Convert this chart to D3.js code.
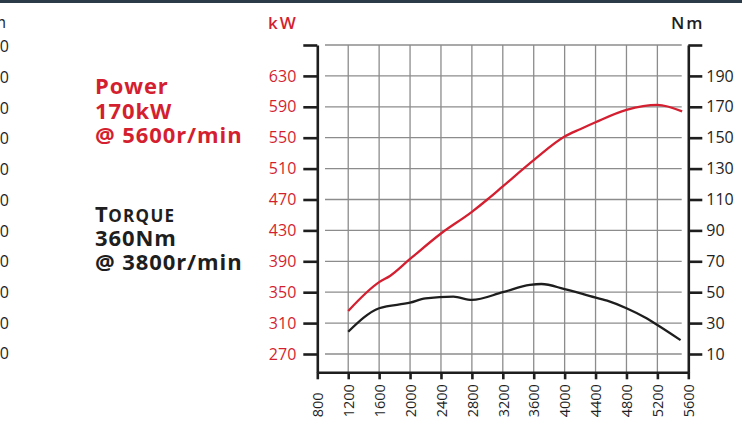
<!DOCTYPE html>
<html>
<head>
<meta charset="utf-8">
<script src="https://cdn.jsdelivr.net/npm/d3@7"></script>
<style>
  html, body { margin: 0; padding: 0; background: #fff; }
  svg { display: block; }
  text { font-family: "Open Sans", "Noto Sans", sans-serif; }
</style>
</head>
<body>
<svg id="chart" width="742" height="422"></svg>
<script>
// ---- data ----
const rpmTicks = [800, 1200, 1600, 2000, 2400, 2800, 3200, 3600, 4000, 4400, 4800, 5200, 5600];
const kwTicks = [270, 310, 350, 390, 430, 470, 510, 550, 590, 630];
const nmTicks = [10, 30, 50, 70, 90, 110, 130, 150, 170, 190];
const leftCutTicks = [210, 190, 170, 150, 130, 110, 90, 70, 50, 30, 10];

const powerRpm = [1200, 1600, 1740, 2000, 2400, 2800, 3000, 3200, 3600, 4000, 4200, 4400, 4800, 5200, 5520];
const powerKw  = [325.7, 363, 371, 393, 426, 454, 470, 487, 521, 551.5, 561, 570, 586, 592.5, 584];

const torqueRpm = [1200, 1600, 2000, 2200, 2560, 2800, 3200, 3550, 3700, 4000, 4330, 4550, 4800, 5060, 5200, 5500];
const torqueNm  = [24.4, 39.6, 43.2, 46, 47.1, 45, 50, 54.7, 55.3, 52, 47.5, 44.5, 39.6, 33.1, 28.8, 19];

const powerLabel = ["Power", "170kW", "@ 5600r/min"];
const torqueTitle = ["T", "ORQUE"];
const torqueLabel = ["360Nm", "@ 3800r/min"];

// ---- drawing ----
const RED = "#d41f30", DARK = "#1e1e1e", GRID = "#8c8c8c";
const svg = d3.select("#chart");

const x = d3.scaleLinear().domain([800, 5600]).range([317.3, 688.3]);
const yKw = d3.scaleLinear().domain([246.3, 670]).range([372.3, 45]);
const yNm = d3.scaleLinear().domain([-1.85, 210]).range([372.3, 45]);

// top bar
svg.append("rect").attr("x", 0).attr("y", 0).attr("width", 742).attr("height", 3).attr("fill", "#2c3b48");

// grid
const g = svg.append("g");
g.selectAll("line.h").data(kwTicks.concat([670])).join("line")
  .attr("x1", 325).attr("x2", 681.7)
  .attr("y1", d => yKw(d)).attr("y2", d => yKw(d))
  .attr("stroke", GRID).attr("stroke-width", 1.3);
g.selectAll("line.v").data(rpmTicks.slice(1, -1)).join("line")
  .attr("x1", d => x(d)).attr("x2", d => x(d))
  .attr("y1", 45).attr("y2", 372)
  .attr("stroke", GRID).attr("stroke-width", 1.3);

function styleAxis(sel, color) {
  sel.select(".domain").attr("stroke", DARK).attr("stroke-width", 2.6);
  sel.selectAll(".tick line").attr("stroke", DARK).attr("stroke-width", 2.6);
  sel.selectAll(".tick text").attr("fill", color).attr("font-size", 16)
     .attr("font-family", "'Open Sans', 'Noto Sans', sans-serif");
}

// left axis (kW)
const axL = svg.append("g").attr("transform", "translate(317.3,0)")
  .call(d3.axisLeft(yKw).tickValues(kwTicks.concat([670]))
    .tickFormat(d => d === 670 ? "" : d).tickSize(14).tickSizeOuter(0).tickPadding(7));
styleAxis(axL, RED);

// right axis (Nm)
const axR = svg.append("g").attr("transform", "translate(688.3,0)")
  .call(d3.axisRight(yNm).tickValues(nmTicks.concat([210]))
    .tickFormat(d => d === 210 ? "" : d).tickSize(14).tickSizeOuter(0).tickPadding(4));
styleAxis(axR, DARK);

// bottom axis
const axB = svg.append("g").attr("transform", "translate(0,372.3)")
  .call(d3.axisBottom(x).tickValues(rpmTicks).tickFormat(d3.format("d"))
    .tickSize(7).tickSizeOuter(0).tickPadding(0));
styleAxis(axB, DARK);
axB.selectAll(".tick text")
  .attr("font-size", 14.5)
  .attr("text-anchor", "start")
  .attr("transform", "translate(0,45) rotate(-90)")
  .attr("x", 0).attr("y", 0).attr("dy", "0.36em");

// unit labels
svg.append("text").attr("x", 268).attr("y", 29).attr("fill", RED)
  .attr("font-size", 17).attr("font-weight", 600).attr("letter-spacing", 2).text("kW");
svg.append("text").attr("x", 671).attr("y", 29).attr("fill", DARK)
  .attr("font-size", 17).attr("font-weight", 600).attr("letter-spacing", 2).text("Nm");

// cut-off labels from neighbouring chart at left edge
svg.append("text").attr("x", 6).attr("y", 28).attr("text-anchor", "end").attr("fill", DARK)
  .attr("font-size", 16).text("Nm");
svg.selectAll("text.cut").data(leftCutTicks).join("text")
  .attr("x", 9).attr("text-anchor", "end")
  .attr("y", (d, i) => 46.7 + i * 30.7).attr("dy", "0.35em")
  .attr("fill", DARK).attr("font-size", 16).text(d => d);

// legend texts
powerLabel.forEach((t, i) => svg.append("text")
  .attr("x", 95).attr("y", 94 + i * 24.5)
  .attr("fill", RED).attr("font-size", 22).attr("font-weight", 700).attr("letter-spacing", 0.9)
  .text(t));

const tT = svg.append("text").attr("x", 95).attr("y", 222)
  .attr("fill", DARK).attr("font-size", 22).attr("font-weight", 700).text(torqueTitle[0]);
const tW = tT.node().getComputedTextLength();
svg.append("text").attr("x", 95 + tW + 0.5).attr("y", 222)
  .attr("fill", DARK).attr("font-size", 17).attr("font-weight", 700).attr("letter-spacing", 1.3)
  .text(torqueTitle[1]);
torqueLabel.forEach((t, i) => svg.append("text")
  .attr("x", 95).attr("y", 246 + i * 24)
  .attr("fill", DARK).attr("font-size", 22).attr("font-weight", 700).attr("letter-spacing", 0.9)
  .text(t));

// lines
const powerPts = powerRpm.map((r, i) => [r, powerKw[i]]);
const torquePts = torqueRpm.map((r, i) => [r, torqueNm[i]]);

svg.append("path").datum(powerPts)
  .attr("d", d3.line().x(d => x(d[0])).y(d => yKw(d[1])).curve(d3.curveMonotoneX))
  .attr("fill", "none").attr("stroke", RED).attr("stroke-width", 2.3);
svg.append("path").datum(torquePts)
  .attr("d", d3.line().x(d => x(d[0])).y(d => yNm(d[1])).curve(d3.curveMonotoneX))
  .attr("fill", "none").attr("stroke", DARK).attr("stroke-width", 2.3);
</script>
</body>
</html>
